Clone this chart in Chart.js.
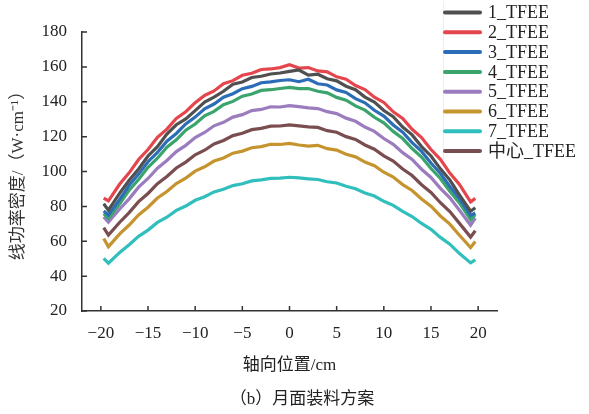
<!DOCTYPE html>
<html>
<head>
  <title>线功率密度</title>
  <script src="https://cdn.jsdelivr.net/npm/chart.js"></script>
  <style>
    body { margin: 0; background: #fff; }
  </style>
</head>
<body>
  <canvas id="powerChart" width="589" height="414"></canvas>

  <script>
    // axial positions (cm)
    const positions = [-19.7, -19.2, -18, -17, -16, -15, -14, -13, -12, -11, -10, -9, -8, -7, -6, -5, -4, -3, -2, -1,
      0, 1, 2, 3, 4, 5, 6, 7, 8, 9, 10, 11, 12, 13, 14, 15, 16, 17, 18, 19.2, 19.7];

    const tfee1 = [81.5, 77.8, 87.6, 95.0, 101.4, 108.9, 114.2, 121.5, 126.8, 130.2, 134.9, 139.8, 142.6, 146.0, 150.1, 151.3, 153.9, 154.6, 155.9, 156.5,
      157.4, 158.2, 155.3, 155.8, 153.2, 152.0, 148.9, 146.9, 142.7, 139.8, 135.0, 131.4, 125.5, 121.0, 114.3, 108.9, 101.5, 95.1, 86.8, 77.2, 79.2];
    const tfee2 = [84.8, 83.2, 92.8, 99.2, 106.9, 112.6, 119.6, 124.3, 130.4, 134.3, 139.5, 143.6, 146.2, 150.3, 152.1, 155.2, 156.3, 158.5, 158.8, 159.6,
      161.2, 159.3, 159.6, 157.7, 157.1, 154.3, 152.9, 149.3, 147.0, 142.6, 139.6, 134.2, 130.4, 124.2, 119.5, 112.6, 107.0, 99.1, 92.7, 82.6, 84.6];
    const tfee3 = [77.3, 75.1, 84.0, 92.1, 98.5, 105.6, 111.0, 117.4, 121.8, 127.3, 131.2, 135.9, 138.7, 142.6, 144.6, 147.5, 148.8, 150.9, 151.4, 152.2,
      152.6, 151.5, 152.9, 150.3, 149.6, 146.8, 145.3, 141.8, 139.4, 135.1, 131.8, 126.7, 122.5, 116.6, 111.5, 104.9, 98.9, 91.4, 84.6, 74.8, 76.2];
    const tfee4 = [75.8, 73.1, 81.5, 89.3, 95.4, 102.4, 107.6, 113.9, 118.2, 123.7, 127.2, 131.9, 134.5, 138.3, 140.2, 143.2, 144.4, 146.5, 146.9, 147.6,
      148.2, 147.5, 147.6, 146.0, 145.1, 142.5, 140.9, 137.6, 135.2, 131.1, 127.9, 123.0, 118.9, 113.2, 108.3, 101.7, 96.0, 88.7, 82.1, 72.4, 75.2];
    const tfee5 = [74.0, 71.0, 78.5, 84.3, 91.0, 96.0, 101.9, 106.3, 111.4, 115.0, 119.5, 122.4, 126.2, 128.2, 131.2, 132.6, 134.9, 135.6, 137.1, 137.0,
      137.8, 137.2, 136.5, 136.1, 134.3, 133.2, 130.6, 128.8, 125.5, 123.0, 118.9, 115.6, 110.8, 106.9, 101.3, 96.6, 90.3, 84.9, 77.9, 69.2, 73.3];
    const tfee6 = [61.6, 56.9, 64.2, 69.3, 75.1, 79.5, 84.8, 88.5, 93.1, 96.2, 100.2, 102.7, 106.0, 107.8, 110.5, 111.7, 113.6, 114.3, 115.6, 115.5,
      116.1, 115.2, 114.6, 115.0, 113.1, 112.3, 109.9, 108.4, 105.4, 103.3, 99.6, 96.8, 92.5, 89.1, 84.2, 80.1, 74.5, 69.8, 63.6, 56.4, 59.8];
    const tfee7 = [50.2, 47.4, 53.6, 58.0, 62.8, 66.4, 70.8, 73.8, 77.7, 80.2, 83.5, 85.5, 88.3, 89.8, 91.9, 93.0, 94.6, 95.2, 96.1, 96.2,
      96.7, 96.3, 95.8, 95.4, 94.1, 93.4, 91.5, 90.1, 87.7, 85.9, 82.9, 80.6, 77.1, 74.2, 70.2, 66.8, 62.2, 58.3, 53.1, 47.6, 49.3];
    const tfeeCenter = [67.8, 63.5, 70.9, 76.4, 82.7, 87.4, 93.0, 97.1, 102.0, 105.4, 109.6, 112.2, 115.8, 117.8, 120.6, 121.9, 124.0, 124.7, 126.0, 126.1,
      126.7, 126.2, 125.6, 125.3, 123.4, 122.5, 120.0, 118.4, 115.2, 112.8, 109.0, 106.0, 101.4, 97.7, 92.4, 88.0, 82.1, 77.0, 70.4, 62.4, 66.0];

    const xTicks = [-20, -15, -10, -5, 0, 5, 10, 15, 20];
    const yTicks = [20, 40, 60, 80, 100, 120, 140, 160, 180];

    const seriesNames = ['1_TFEE', '2_TFEE', '3_TFEE', '4_TFEE', '5_TFEE', '6_TFEE', '7_TFEE', '中心_TFEE'];
    const seriesData = [tfee1, tfee2, tfee3, tfee4, tfee5, tfee6, tfee7, tfeeCenter];
    const seriesColors = ['#505050', '#e5464d', '#2c6db8', '#3ba46c', '#9a7cbf', '#c6942f', '#31bfbe', '#7a4d50'];

    const caption = '（b）月面装料方案';

    const FONT = "'Liberation Serif', 'Noto Sans CJK SC', serif";
    const AXIS = '#333';

    // inward tick marks
    const innerTicks = {
      id: 'innerTicks',
      afterDraw(chart) {
        const { ctx, chartArea, scales } = chart;
        ctx.save();
        ctx.strokeStyle = AXIS;
        ctx.lineWidth = 1.5;
        ctx.beginPath();
        xTicks.forEach(v => {
          const px = scales.x.getPixelForValue(v);
          ctx.moveTo(px, chartArea.bottom);
          ctx.lineTo(px, chartArea.bottom - 5);
        });
        yTicks.forEach(v => {
          const py = scales.y.getPixelForValue(v);
          ctx.moveTo(chartArea.left, py);
          ctx.lineTo(chartArea.left + 5, py);
        });
        ctx.stroke();
        ctx.restore();
      }
    };

    // legend box sitting over the top right corner, plus the figure caption
    const boxLegend = {
      id: 'boxLegend',
      afterDraw(chart) {
        const ctx = chart.ctx;
        ctx.save();
        ctx.fillStyle = '#fff';
        ctx.fillRect(443, 1, 146, 160);
        ctx.strokeStyle = '#eeeeee';
        ctx.lineWidth = 1;
        ctx.beginPath();
        ctx.moveTo(443.5, 1);
        ctx.lineTo(443.5, 161);
        ctx.stroke();
        ctx.font = '18px ' + FONT;
        ctx.textBaseline = 'middle';
        chart.data.datasets.forEach((ds, i) => {
          const y = 12.5 + i * 19.8;
          ctx.strokeStyle = ds.borderColor;
          ctx.lineWidth = 4;
          ctx.lineCap = 'round';
          ctx.beginPath();
          ctx.moveTo(445, y);
          ctx.lineTo(480, y);
          ctx.stroke();
          ctx.fillStyle = '#222';
          ctx.fillText(ds.label, 488, y + 1);
        });

        ctx.font = '17px ' + FONT;
        ctx.fillStyle = '#222';
        ctx.textAlign = 'center';
        ctx.fillText(caption, 302, 400);
        ctx.restore();
      }
    };

    const ctx = document.getElementById('powerChart').getContext('2d');
    const chart = new Chart(ctx, {
      type: 'line',
      data: {
        datasets: seriesNames.map((name, i) => ({
          label: name,
          data: positions.map((x, j) => ({ x: x, y: seriesData[i][j] })),
          borderColor: seriesColors[i],
          backgroundColor: seriesColors[i],
          borderWidth: 3.2,
          pointRadius: 0,
          tension: 0
        }))
      },
      options: {
        responsive: false,
        animation: false,
        layout: { padding: { top: 32, right: 92, left: 0, bottom: 38.4 } },
        plugins: {
          legend: { display: false },
          tooltip: { enabled: false }
        },
        scales: {
          x: {
            type: 'linear',
            min: -22,
            max: 22,
            afterBuildTicks: s => { s.ticks = xTicks.map(v => ({ value: v })); },
            afterFit: s => { s.height = 64.6; },
            grid: { display: false, drawTicks: false },
            border: { display: true, color: AXIS, width: 1.5 },
            ticks: {
              padding: 12,
              color: '#222',
              font: { family: FONT, size: 17 },
              maxRotation: 0,
              callback: v => (v < 0 ? '\u2212' + Math.abs(v) : String(v))
            },
            title: {
              display: true,
              text: '轴向位置/cm',
              color: '#222',
              font: { family: FONT, size: 17 },
              padding: { top: 6, bottom: 0 }
            }
          },
          y: {
            min: 20,
            max: 180,
            afterBuildTicks: s => { s.ticks = yTicks.map(v => ({ value: v })); },
            afterFit: s => { s.width = 82; },
            grid: { display: false, drawTicks: false },
            border: { display: true, color: AXIS, width: 1.5 },
            ticks: {
              padding: 15,
              color: '#222',
              font: { family: FONT, size: 17 }
            },
            title: {
              display: true,
              text: '线功率密度/（W·cm⁻¹）',
              color: '#333',
              font: { family: FONT, size: 17 },
              padding: { top: 8, bottom: 0 }
            }
          }
        }
      },
      plugins: [innerTicks, boxLegend]
    });
  </script>
</body>
</html>
